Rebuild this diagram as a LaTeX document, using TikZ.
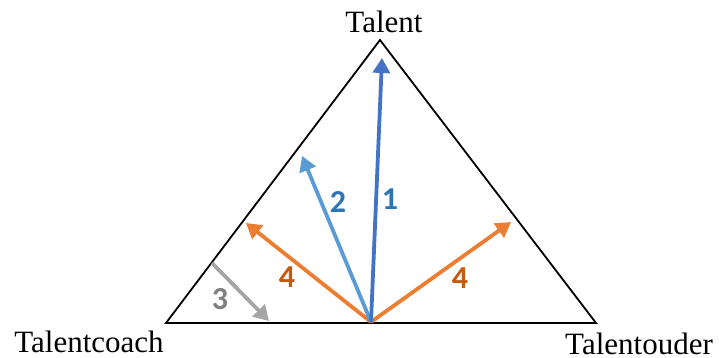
\documentclass[tikz,border=0pt]{standalone}
\usepackage{fontspec}
\setmainfont{Liberation Serif}
\newfontfamily\numfont{Carlito}[BoldFont={Carlito Bold}]
\usetikzlibrary{arrows.meta}
\definecolor{cblue}{HTML}{4472C4}
\definecolor{clblue}{HTML}{5B9BD5}
\definecolor{corange}{HTML}{ED7D31}
\definecolor{cgrey}{HTML}{A5A5A5}
\definecolor{tblue}{HTML}{2E75B6}
\definecolor{torange}{HTML}{C55A11}
\definecolor{tgrey}{HTML}{7F7F7F}
\tikzset{
  vec/.style={line width=3.8pt,-{Triangle[length=15pt,width=17pt]}},
  num/.style={font=\numfont\bfseries\fontsize{32}{32}\selectfont,inner sep=0pt},
  lab/.style={font=\fontsize{31}{31}\selectfont,inner sep=0pt,anchor=base}
}
\begin{document}
\begin{tikzpicture}[x=1pt,y=-1pt]
\useasboundingbox (0,0) rectangle (719,358);
\coordinate (L) at (166,323);
\coordinate (R) at (596,323);
\coordinate (T) at (380,40);
\draw[line width=1.8pt,line join=miter] (L) -- (R) -- (T) -- cycle;
\coordinate (O) at (371,322);
\coordinate (t1) at (382,58);
\coordinate (t2) at (302,156);
\coordinate (t4l) at (246,223);
\coordinate (t4r) at (511,222);
\coordinate (s3) at (212,263);
\coordinate (t3) at (269,321);
\draw[vec,cgrey] (s3) -- (t3);
\draw[vec,corange] (O) -- (t4l);
\draw[vec,corange] (O) -- (t4r);
\draw[vec,clblue] (O) -- (t2);
\draw[vec,cblue] (O) -- (t1);
\node[num,text=tblue] (n1) at (390,199) {1};
\node[num,text=tblue] (n2) at (338,202) {2};
\node[num,text=torange] (n4l) at (287,277) {4};
\node[num,text=torange] (n4r) at (460,278) {4};
\node[num,text=tgrey] (n3) at (220,299) {3};
\node[lab] (lt) at (384,33) {Talent};
\node[lab] (lc) at (89,352) {Talentcoach};
\node[lab] (lo) at (639,354) {Talentouder};
\end{tikzpicture}
\end{document}
